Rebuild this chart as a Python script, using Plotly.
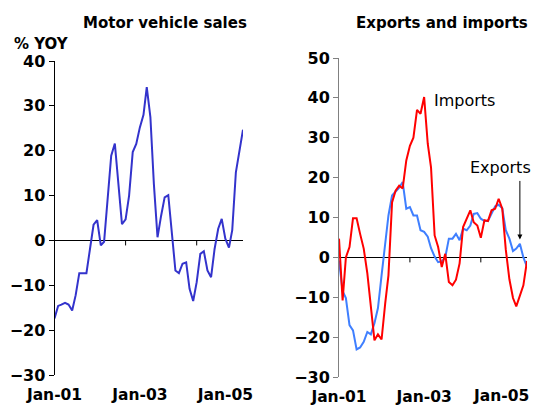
import pandas as pd
import plotly.graph_objects as go

months = pd.date_range("2001-01-01", periods=54, freq="MS")

motor_sales = [-17.4, -14.6, -14.3, -13.9, -14.3, -15.6, -12.2, -7.3, -7.3, -7.3,
               -1.8, 3.5, 4.5, -1.1, -0.3, 10.0, 18.9, 21.6, 12.2, 3.6,
               4.7, 10.0, 19.7, 21.5, 25.2, 28.0, 34.2, 27.5, 12.5, 0.7,
               5.4, 9.6, 10.1, 1.4, -6.7, -7.3, -5.2, -4.9, -10.8, -13.5,
               -9.3, -3.0, -2.4, -6.7, -8.2, -1.9, 2.6, 4.8, 0.4, -1.6,
               2.3, 15.2, 20.4, 24.7]

exports = [-0.8, -8.5, -10.2, -17.0, -18.3, -23.1, -22.6, -21.2, -18.7, -19.3,
           -16.5, -12.7, -4.5, 3.0, 10.5, 15.5, 16.5, 17.5, 18.9, 12.2,
           12.6, 10.5, 10.5, 6.8, 6.4, 5.2, 2.3, 0.2, -1.2, -1.0,
           0.0, 4.7, 4.7, 5.9, 4.3, 7.2, 6.8, 8.0, 10.9, 11.1,
           9.7, 9.1, 9.1, 11.0, 12.8, 13.2, 12.3, 6.8, 4.7, 1.6,
           2.2, 3.4, 0.0, -2.4]

imports = [4.7, -10.8, 0.0, 2.6, 9.8, 9.8, 5.9, 2.2, -4.0, -12.5,
           -20.8, -19.3, -20.6, -11.6, -4.5, 13.8, 16.7, 18.0, 17.3, 24.3,
           28.0, 30.0, 37.0, 36.0, 40.2, 28.5, 22.6, 5.5, 2.6, -2.4,
           0.9, -6.2, -7.0, -5.6, -1.5, 7.6, 9.7, 11.8, 8.8, 8.0,
           4.9, 9.3, 9.1, 11.8, 12.2, 14.7, 12.2, 2.0, -5.5, -10.2,
           -12.3, -9.5, -7.0, -0.9]

label_dates = ["2001-01-01", "2003-01-01", "2005-01-01"]
label_text = ["Jan-01", "Jan-03", "Jan-05"]
minor_tick_dates = ["2002-09-01", "2004-05-01"]

# page body has an 8px margin, so the figure is drawn 8px in from the window corner
OFF = 8
W, H = 539 - OFF, 405 - OFF
ML, MR, MT, MB = 54 - OFF, 12 - OFF, 58 - OFF, 28
PW, PH = W - ML - MR, H - MT - MB
FONT = "DejaVu Sans"
XFONT = dict(family=FONT, size=15.5, color="black", weight="bold")


def px(x):
    return (x - OFF - ML) / PW


def py(y):
    return 1 - (y - OFF - MT) / PH


fig = go.Figure()
fig.add_trace(go.Scatter(x=months, y=motor_sales, mode="lines",
                         line=dict(color="#3333CC", width=2), xaxis="x", yaxis="y",
                         showlegend=False))
fig.add_trace(go.Scatter(x=months, y=exports, mode="lines",
                         line=dict(color="#3F7FFF", width=2), xaxis="x2", yaxis="y2",
                         showlegend=False))
fig.add_trace(go.Scatter(x=months, y=imports, mode="lines",
                         line=dict(color="#FF0000", width=2), xaxis="x2", yaxis="y2",
                         showlegend=False))

xcommon = dict(type="date", range=[months[0], months[-1]], showgrid=False,
               zeroline=False, showline=False, tickmode="array",
               tickvals=label_dates, automargin=False,
               ticks="outside", ticklen=5, tickcolor="rgba(0,0,0,0)",
               tickfont=XFONT)

ycommon = dict(showgrid=False, zeroline=True, zerolinecolor="black", zerolinewidth=1,
               showline=True, ticks="outside", ticklen=5, dtick=10, automargin=False,
               tickfont=dict(family=FONT, size=16, color="black", weight="bold"))

fig.update_layout(
    width=W, height=H,
    margin=dict(l=ML, r=MR, t=MT, b=MB),
    paper_bgcolor="white", plot_bgcolor="white",
    xaxis=dict(domain=[px(54.5), px(243)], anchor="y", ticktext=label_text, **xcommon),
    yaxis=dict(domain=[py(375), py(61)], anchor="x", range=[-30, 40],
               linecolor="black", tickcolor="black", **ycommon),
    # last label of the right panel sits at the window edge; drawn as an annotation below
    xaxis2=dict(domain=[px(339), px(527)], anchor="y2",
                ticktext=label_text[:2] + [""], **xcommon),
    yaxis2=dict(domain=[py(377), py(58)], anchor="x2", range=[-30, 50],
                linecolor="#808080", tickcolor="#808080", **ycommon),
)

shapes = []
for xr, yr in (("x", "y"), ("x2", "y2")):
    for d in minor_tick_dates:
        shapes.append(dict(type="line", xref=xr, yref=yr, x0=d, x1=d,
                           ysizemode="pixel", yanchor=0, y0=0, y1=-5,
                           line=dict(color="black", width=1)))
fig.update_layout(shapes=shapes)

anns = [
    dict(text="<b>Motor vehicle sales</b>", xref="paper", yref="paper",
         x=px(165), y=py(23), xanchor="center", yanchor="middle",
         showarrow=False, font=dict(family=FONT, size=15, color="black")),
    dict(text="<b>Exports and imports</b>", xref="paper", yref="paper",
         x=px(442), y=py(23), xanchor="center", yanchor="middle",
         showarrow=False, font=dict(family=FONT, size=15, color="black")),
    dict(text="<b>% YOY</b>", xref="paper", yref="paper",
         x=px(12), y=py(44), xanchor="left", yanchor="middle",
         showarrow=False, font=dict(family=FONT, size=15, color="black")),
    dict(text="Imports", xref="x2", yref="y2", x=months[26] + pd.Timedelta(days=10), y=39.3,
         xanchor="left", yanchor="middle", showarrow=False,
         font=dict(family=FONT, size=16, color="black")),
    dict(text="Exports", xref="x2", yref="y2", x=months[36] + pd.Timedelta(days=10), y=22.6,
         xanchor="left", yanchor="middle", showarrow=False,
         font=dict(family=FONT, size=16, color="black")),
    dict(text="", xref="x2", yref="y2", x=months[51], y=4.5, ax=0, ay=-60,
         showarrow=True, arrowhead=2, arrowsize=1, arrowwidth=1, arrowcolor="black"),
    dict(text="<b>" + label_text[2] + "</b>", xref="paper", yref="y2",
         x=px(531), y=-30, yshift=-19, xanchor="right", yanchor="middle",
         showarrow=False, font=XFONT),
]
fig.update_layout(annotations=anns)

fig.write_html("out.html")
